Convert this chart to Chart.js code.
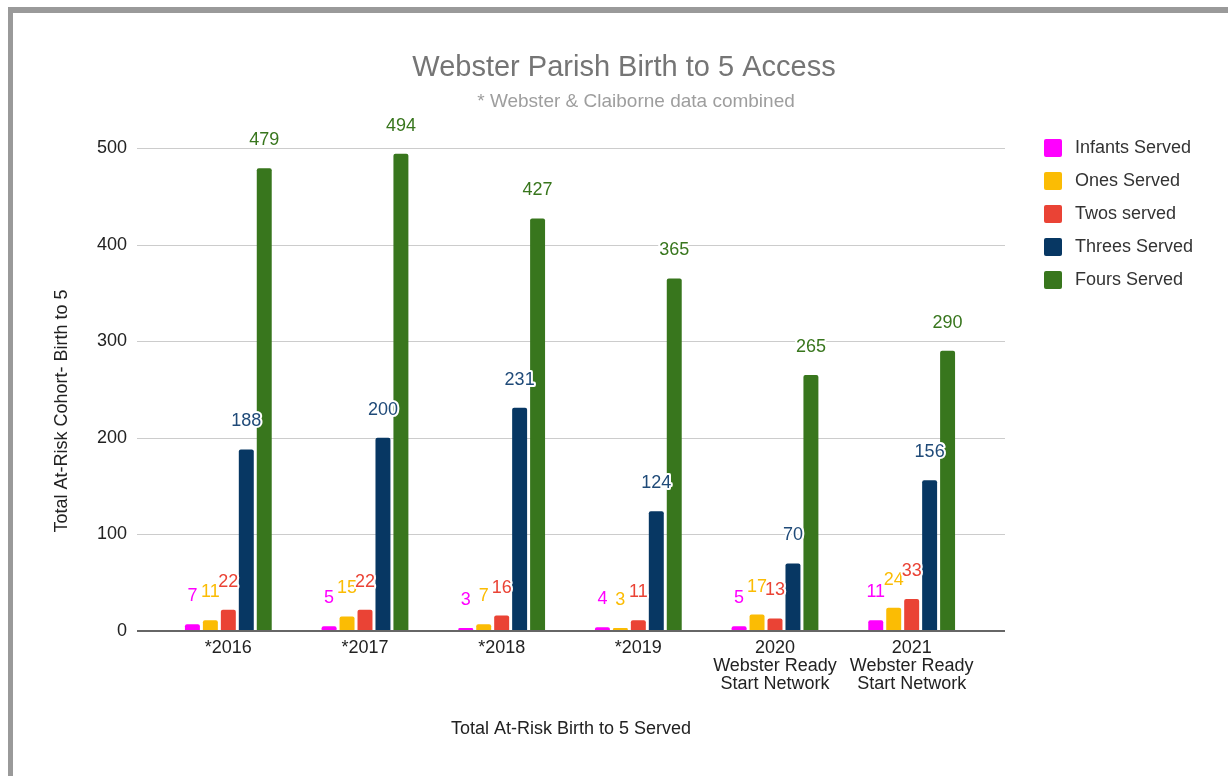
<!DOCTYPE html>
<html>
<head>
<meta charset="utf-8">
<script src="https://cdn.jsdelivr.net/npm/chart.js@4.4.1/dist/chart.umd.min.js"></script>
<style>
    html, body { margin: 0; padding: 0; background: #fff; }
    #wrap { position: relative; width: 1228px; height: 776px; overflow: hidden; }
    #frame { position: absolute; left: 8px; top: 7px; right: -10px; bottom: -10px;
             border-left: 5px solid #9a9a9a; border-top: 6px solid #9a9a9a; }
    canvas { position: absolute; left: 0; top: 0; }
</style>
</head>
<body>
<div id="wrap">
    <div id="frame"></div>
    <canvas id="chart" width="1228" height="776"></canvas>
</div>
<script>
/* ── Data ── */
const categories = [
    ['*2016'], ['*2017'], ['*2018'], ['*2019'],
    ['2020', 'Webster Ready', 'Start Network'],
    ['2021', 'Webster Ready', 'Start Network']
];
const infantsServed = [7, 5, 3, 4, 5, 11];
const onesServed    = [11, 15, 7, 3, 17, 24];
const twosServed    = [22, 22, 16, 11, 13, 33];
const threesServed  = [188, 200, 231, 124, 70, 156];
const foursServed   = [479, 494, 427, 365, 265, 290];
const seriesNames   = ['Infants Served', 'Ones Served', 'Twos served', 'Threes Served', 'Fours Served'];
const yTicks        = [0, 100, 200, 300, 400, 500];

const barColors   = ['#ff00ff', '#fbbc04', '#ea4335', '#073763', '#38761d'];
const labelColors = ['#ff00ff', '#fbbc04', '#ea4335', '#1f4a78', '#38761d'];
const FONT = "'Liberation Sans', Arial, sans-serif";

const seriesValues = [infantsServed, onesServed, twosServed, threesServed, foursServed];

/* ── Decorations: grid, baseline, value labels, titles, legend ── */
const decor = {
    id: 'decor',
    beforeDatasetsDraw(chart) {
        const { ctx, chartArea: a, scales: { y } } = chart;
        ctx.save();
        ctx.strokeStyle = '#cccccc';
        ctx.lineWidth = 1;
        yTicks.forEach(v => {
            if (v === 0) return;
            const py = Math.round(y.getPixelForValue(v)) + 0.5;
            ctx.beginPath();
            ctx.moveTo(a.left - 23, py);
            ctx.lineTo(a.right + 25, py);
            ctx.stroke();
        });
        ctx.restore();
    },
    afterDatasetsDraw(chart) {
        const { ctx, chartArea: a, scales: { y } } = chart;
        ctx.save();
        // zero line
        const y0 = Math.round(y.getPixelForValue(0));
        ctx.fillStyle = '#666666';
        ctx.fillRect(a.left - 23, y0 - 1, a.right - a.left + 48, 2);

        // value labels
        ctx.font = '18px ' + FONT;
        ctx.textAlign = 'center';
        ctx.textBaseline = 'middle';
        ctx.lineJoin = 'round';
        chart.data.datasets.forEach((ds, di) => {
            const meta = chart.getDatasetMeta(di);
            meta.data.forEach((bar, i) => {
                const txt = String(ds.data[i]);
                const ly = bar.y - 28;
                ctx.strokeStyle = '#ffffff';
                ctx.lineWidth = 4;
                ctx.strokeText(txt, bar.x, ly);
                ctx.fillStyle = labelColors[di];
                ctx.fillText(txt, bar.x, ly);
            });
        });
        ctx.restore();
    },
    afterDraw(chart) {
        const { ctx } = chart;
        ctx.save();
        ctx.textAlign = 'center';
        ctx.textBaseline = 'middle';

        ctx.fillStyle = '#757575';
        ctx.font = '29px ' + FONT;
        ctx.fillText('Webster Parish Birth to 5 Access', 624, 68);

        ctx.fillStyle = '#9e9e9e';
        ctx.font = '19px ' + FONT;
        ctx.fillText('* Webster & Claiborne data combined', 636, 102);

        ctx.fillStyle = '#222222';
        ctx.font = '18px ' + FONT;
        ctx.fillText('Total At-Risk Birth to 5 Served', 571, 729);

        ctx.save();
        ctx.translate(62, 411);
        ctx.rotate(-Math.PI / 2);
        ctx.fillText('Total At-Risk Cohort- Birth to 5', 0, 0);
        ctx.restore();

        // legend
        ctx.textAlign = 'left';
        chart.data.datasets.forEach((ds, i) => {
            const top = 139 + i * 33;
            ctx.fillStyle = ds.backgroundColor;
            ctx.beginPath();
            ctx.roundRect(1044, top, 18, 18, 2);
            ctx.fill();
            ctx.fillStyle = '#333333';
            ctx.fillText(ds.label, 1075, top + 9);
        });
        ctx.restore();
    }
};

new Chart(document.getElementById('chart'), {
    type: 'bar',
    data: {
        labels: categories,
        datasets: seriesNames.map((name, i) => ({
            label: name,
            data: seriesValues[i],
            backgroundColor: barColors[i],
            borderRadius: { topLeft: 2, topRight: 2 },
            borderSkipped: 'bottom',
            categoryPercentage: 0.657,
            barPercentage: 0.833
        }))
    },
    options: {
        responsive: false,
        animation: false,
        layout: { padding: { top: 148, right: 248, bottom: 0, left: 0 } },
        plugins: {
            legend: { display: false },
            title: { display: false },
            tooltip: { enabled: false }
        },
        scales: {
            x: {
                grid: { display: false, drawTicks: false },
                border: { display: false },
                ticks: {
                    color: '#222222', padding: 8, maxRotation: 0, autoSkip: false,
                    font: { family: FONT, size: 18, lineHeight: 1 }
                },
                afterFit: s => { s.height = 145; }
            },
            y: {
                min: 0, max: 500,
                grid: { display: false, drawTicks: false },
                border: { display: false },
                ticks: {
                    stepSize: 100, color: '#222222', padding: 33,
                    font: { family: FONT, size: 18 }
                },
                afterFit: s => { s.width = 160; }
            }
        }
    },
    plugins: [decor]
});
</script>
</body>
</html>
